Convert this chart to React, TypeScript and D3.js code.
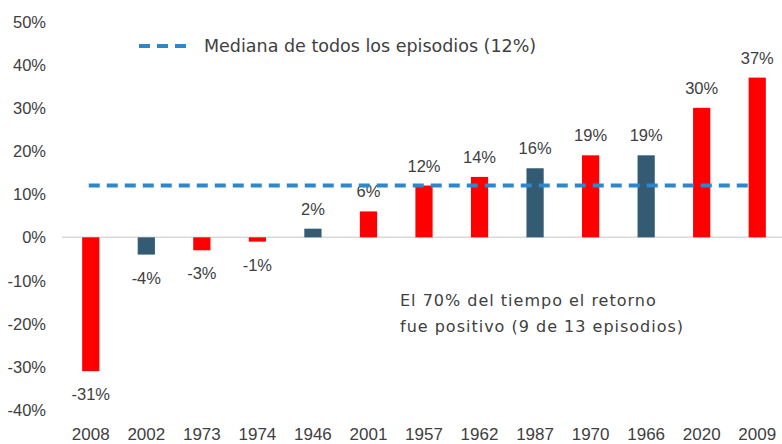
import React from "react";
import * as d3 from "d3";

const categories = ["2008", "2002", "1973", "1974", "1946", "2001", "1957", "1962", "1987", "1970", "1966", "2020", "2009"];
const values = [-31, -4, -3, -1, 2, 6, 12, 14, 16, 19, 19, 30, 37];
const barGroup = ["r", "b", "r", "r", "b", "r", "r", "r", "b", "r", "b", "r", "r"];
const yTicks = [50, 40, 30, 20, 10, 0, -10, -20, -30, -40];
const median = 12;
const legendLabel = "Mediana de todos los episodios (12%)";
const noteLines = ["El 70% del tiempo el retorno", "fue positivo (9 de 13 episodios)"];

const W = 782;
const H = 444;

export default function App() {
  const y = d3.scaleLinear().domain([-40, 50]).range([410, 21.5]);
  const x = d3.scaleBand<string>().domain(categories).range([63, 785]).paddingInner(0.69).paddingOuter(0.345);
  const bw = x.bandwidth();
  const color = (g: string) => (g === "r" ? "#ff0000" : "#335b74");
  const font = "'Liberation Sans', Arial, sans-serif";
  const textCol = "#404040";
  const cx = (c: string) => (x(c) as number) + bw / 2;
  const fs = 16.5;

  return (
    <svg width={W} height={H} style={{ position: "absolute", left: 0, top: 0, background: "#fff" }} fontFamily={font}>
      {yTicks.map((t) => (
        <text key={t} x={46} y={y(t) + 6} textAnchor="end" fontSize={fs} fill={textCol}>
          {`${t}%`}
        </text>
      ))}
      <line x1={62} x2={782} y1={y(0)} y2={y(0)} stroke="#d9d9d9" strokeWidth={1.5} />
      {categories.map((c, i) => {
        const v = values[i];
        const y0 = y(Math.max(0, v));
        const y1 = y(Math.min(0, v));
        return (
          <g key={c}>
            <rect x={x(c)} y={y0} width={bw} height={y1 - y0} fill={color(barGroup[i])} />
            <text
              x={cx(c)}
              y={v >= 0 ? y0 - 14 : y1 + 29}
              textAnchor="middle"
              fontSize={fs}
              fill={textCol}
            >
              {`${v}%`}
            </text>
            <text x={cx(c)} y={440} textAnchor="middle" fontSize={17} fill={textCol}>
              {c}
            </text>
          </g>
        );
      })}
      <line
        x1={cx(categories[0]) - 2}
        x2={cx(categories[categories.length - 1]) - 6}
        y1={y(median)}
        y2={y(median)}
        stroke="#2e86cb"
        strokeWidth={4}
        strokeDasharray="11 7"
      />
      <line x1={139} x2={193} y1={46} y2={46} stroke="#2e86cb" strokeWidth={4} strokeDasharray="11 7" />
      <text x={204} y={52} fill={textCol} fontFamily="'DejaVu Sans', sans-serif" fontSize={17.5}>
        {legendLabel}
      </text>
      {noteLines.map((l, i) => (
        <text
          key={i}
          x={400}
          y={306 + i * 26}
          fontSize={16}
          letterSpacing={1}
          fill={textCol}
          fontFamily="'DejaVu Sans', sans-serif"
        >
          {l}
        </text>
      ))}
    </svg>
  );
}
